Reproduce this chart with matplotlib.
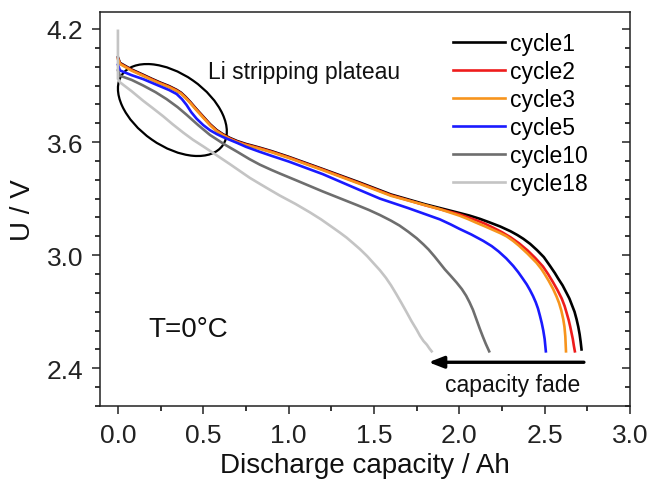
import matplotlib
matplotlib.use("Agg")
import matplotlib.pyplot as plt
from matplotlib.patches import Ellipse
import matplotlib.transforms as mtransforms
import matplotlib.lines as mlines
from matplotlib.ticker import MultipleLocator

plt.rcParams['font.family'] = ['Liberation Sans', 'DejaVu Sans']

labels = ["cycle1", "cycle2", "cycle3", "cycle5", "cycle10", "cycle18"]
colors = ["#000000", "#ee1c1c", "#f7941d", "#1a1aff", "#6e6e6e", "#c4c4c4"]

cap_c1 = [0, 0.012, 0.08, 0.148, 0.2, 0.25, 0.3, 0.344, 0.37, 0.396, 0.422, 0.46, 0.5, 0.54, 0.578, 0.615, 0.656,
          0.7, 0.75, 0.8, 0.832, 0.9, 1.0, 1.2, 1.418, 1.6, 1.8, 2.0, 2.06, 2.12, 2.18, 2.24, 2.3, 2.34, 2.375,
          2.415, 2.455, 2.495, 2.53, 2.56, 2.58, 2.605, 2.628, 2.645, 2.66, 2.675, 2.687, 2.697, 2.705, 2.711, 2.716]
u_c1 = [4.05, 4.02, 3.985, 3.957, 3.935, 3.915, 3.897, 3.877, 3.862, 3.84, 3.815, 3.775, 3.735, 3.695, 3.664,
        3.642, 3.622, 3.605, 3.59, 3.578, 3.57, 3.552, 3.522, 3.457, 3.385, 3.322, 3.27, 3.224, 3.21, 3.193,
        3.173, 3.152, 3.127, 3.107, 3.087, 3.06, 3.027, 2.99, 2.945, 2.905, 2.875, 2.84, 2.80, 2.77, 2.735, 2.70,
        2.66, 2.62, 2.58, 2.54, 2.50]

cap_c2 = [0, 0.012, 0.08, 0.148, 0.2, 0.25, 0.3, 0.344, 0.37, 0.396, 0.422, 0.46, 0.5, 0.54, 0.578, 0.615, 0.656,
          0.7, 0.75, 0.8, 0.832, 0.9, 1.0, 1.2, 1.418, 1.6, 1.8, 2.0, 2.1, 2.15, 2.2, 2.25, 2.3, 2.35, 2.4, 2.445,
          2.49, 2.52, 2.55, 2.575, 2.6, 2.617, 2.63, 2.641, 2.65, 2.658, 2.665, 2.671, 2.677]
u_c2 = [4.045, 4.017, 3.982, 3.954, 3.932, 3.912, 3.894, 3.874, 3.859, 3.837, 3.812, 3.772, 3.732, 3.692, 3.661,
        3.639, 3.619, 3.602, 3.587, 3.575, 3.567, 3.549, 3.519, 3.454, 3.381, 3.318, 3.265, 3.217, 3.185, 3.167,
        3.145, 3.122, 3.095, 3.063, 3.025, 2.985, 2.94, 2.90, 2.855, 2.815, 2.77, 2.73, 2.69, 2.655, 2.62, 2.585,
        2.555, 2.52, 2.49]

cap_c3 = [0, 0.012, 0.08, 0.148, 0.2, 0.25, 0.3, 0.344, 0.37, 0.396, 0.422, 0.46, 0.5, 0.54, 0.578, 0.615, 0.656,
          0.7, 0.75, 0.8, 0.832, 0.9, 1.0, 1.2, 1.418, 1.6, 1.886, 2.0, 2.05, 2.1, 2.15, 2.2, 2.24, 2.277, 2.315,
          2.35, 2.4, 2.452, 2.48, 2.5, 2.525, 2.55, 2.57, 2.585, 2.598, 2.609, 2.616, 2.621, 2.625]
u_c3 = [4.04, 4.014, 3.979, 3.951, 3.929, 3.909, 3.891, 3.871, 3.856, 3.834, 3.809, 3.769, 3.729, 3.689, 3.658,
        3.636, 3.616, 3.599, 3.584, 3.572, 3.564, 3.546, 3.516, 3.451, 3.378, 3.315, 3.244, 3.21, 3.192, 3.172,
        3.153, 3.133, 3.117, 3.10, 3.076, 3.05, 3.008, 2.96, 2.928, 2.90, 2.862, 2.82, 2.78, 2.745, 2.705, 2.66,
        2.62, 2.57, 2.49]

cap_c5 = [0, 0.012, 0.08, 0.148, 0.2, 0.25, 0.3, 0.344, 0.375, 0.402, 0.43, 0.461, 0.5, 0.539, 0.58, 0.617, 0.66,
          0.7, 0.75, 0.832, 0.9, 1.0, 1.2, 1.418, 1.535, 1.7, 1.886, 1.95, 2.0, 2.07, 2.14, 2.19, 2.23, 2.275, 2.316,
          2.345, 2.37, 2.395, 2.414, 2.432, 2.448, 2.461, 2.472, 2.483, 2.492, 2.5, 2.507]
u_c5 = [4.01, 3.98, 3.955, 3.934, 3.914, 3.895, 3.876, 3.855, 3.828, 3.797, 3.758, 3.724, 3.69, 3.663, 3.642,
        3.626, 3.61, 3.595, 3.575, 3.548, 3.527, 3.497, 3.43, 3.345, 3.30, 3.25, 3.19, 3.163, 3.14, 3.11, 3.076,
        3.048, 3.02, 2.983, 2.943, 2.91, 2.878, 2.845, 2.815, 2.783, 2.75, 2.717, 2.68, 2.64, 2.60, 2.555, 2.49]

cap_c10 = [0, 0.012, 0.08, 0.148, 0.22, 0.285, 0.35, 0.402, 0.47, 0.539, 0.62, 0.7, 0.77, 0.832, 0.9, 0.949, 1.05,
           1.2, 1.3, 1.4, 1.47, 1.535, 1.6, 1.65, 1.7, 1.75, 1.79, 1.82, 1.855, 1.886, 1.915, 1.95, 1.984, 2.015,
           2.04, 2.06, 2.08, 2.1, 2.12, 2.137, 2.155, 2.175]
u_c10 = [3.98, 3.952, 3.93, 3.90, 3.865, 3.828, 3.785, 3.745, 3.69, 3.638, 3.59, 3.548, 3.51, 3.48, 3.452, 3.433,
         3.395, 3.338, 3.302, 3.266, 3.24, 3.213, 3.183, 3.157, 3.125, 3.09, 3.057, 3.03, 2.993, 2.958, 2.925,
         2.89, 2.855, 2.82, 2.785, 2.75, 2.71, 2.66, 2.61, 2.57, 2.53, 2.49]

cap_c18 = [0, 0, 0.012, 0.08, 0.148, 0.2, 0.265, 0.32, 0.383, 0.44, 0.5, 0.57, 0.656, 0.72, 0.773, 0.832, 0.89,
           0.949, 1.04, 1.125, 1.19, 1.25, 1.3, 1.34, 1.38, 1.418, 1.46, 1.5, 1.535, 1.57, 1.6, 1.63, 1.66, 1.691,
           1.72, 1.75, 1.77, 1.79, 1.81, 1.825, 1.838]
u_c18 = [4.19, 3.935, 3.917, 3.87, 3.819, 3.783, 3.737, 3.695, 3.65, 3.612, 3.577, 3.535, 3.483, 3.443, 3.41,
         3.378, 3.347, 3.316, 3.272, 3.227, 3.19, 3.152, 3.12, 3.093, 3.062, 3.032, 2.995, 2.955, 2.92, 2.88, 2.84,
         2.795, 2.748, 2.698, 2.65, 2.605, 2.572, 2.545, 2.525, 2.505, 2.49]

caps = [cap_c1, cap_c2, cap_c3, cap_c5, cap_c10, cap_c18]
volts = [u_c1, u_c2, u_c3, u_c5, u_c10, u_c18]

fig = plt.figure(figsize=(6.52, 4.81), dpi=100)
ax = fig.add_axes([100/652, 74/481, 530/652, 394/481])

for x, y, c, lab in zip(caps, volts, colors, labels):
    ax.plot(x, y, color=c, lw=1.9, label=lab, solid_joinstyle='round')

ax.set_xlim(-0.105, 3.0)
ax.set_ylim(2.2, 4.29)
ax.xaxis.set_minor_locator(MultipleLocator(0.25))
ax.yaxis.set_minor_locator(MultipleLocator(0.1))
ax.set_xticks([0, 0.5, 1.0, 1.5, 2.0, 2.5, 3.0])
ax.set_yticks([2.4, 3.0, 3.6, 4.2])
ax.tick_params(axis='both', which='major', labelsize=19, length=6, width=1.1, direction='out', pad=6, colors='#222222')
ax.tick_params(axis='both', which='minor', length=3.5, width=1.1, direction='out')
ax.tick_params(axis='y', which='both', right=True)
for t in ax.yaxis.get_major_ticks() + ax.yaxis.get_minor_ticks():
    t.tick2line.set_marker(mlines.TICKLEFT)
for s in ax.spines.values():
    s.set_linewidth(1.1)
    s.set_color('#222222')

ax.set_xlabel('Discharge capacity / Ah', fontsize=20, color='#111111')
ax.set_ylabel('U / V', fontsize=20, color='#111111')
ax.xaxis.set_label_coords(0.5, -0.118)
ax.yaxis.set_label_coords(-0.12, 0.5)

ax.legend(loc='upper left', bbox_to_anchor=(0.666, 0.95), frameon=False,
          fontsize=16.5, handlelength=2.27, handletextpad=0.22, labelspacing=0.22,
          borderpad=0, borderaxespad=0)

# ellipse highlighting the plateau
tr = fig.dpi_scale_trans + mtransforms.ScaledTranslation(0.319, 3.77, ax.transData)
ax.add_patch(Ellipse((0, 0), 1.23, 0.72, angle=-35, transform=tr, fill=False, ec='black', lw=1.6))

ax.text(0.527, 3.977, 'Li stripping plateau', fontsize=16.5, va='center', ha='left', color='#111111')
ax.text(0.176, 2.607, 'T=0°C', fontsize=20, va='center', ha='left', color='#111111')
ax.annotate('', xy=(1.82, 2.432), xytext=(2.73, 2.432),
            arrowprops=dict(arrowstyle='-|>,head_length=0.9,head_width=0.35', color='black', lw=2.4,
                            shrinkA=0, shrinkB=0))
ax.text(2.71, 2.315, 'capacity fade', fontsize=16.5, va='center', ha='right', color='#111111')

fig.savefig('out.png', dpi=100)
